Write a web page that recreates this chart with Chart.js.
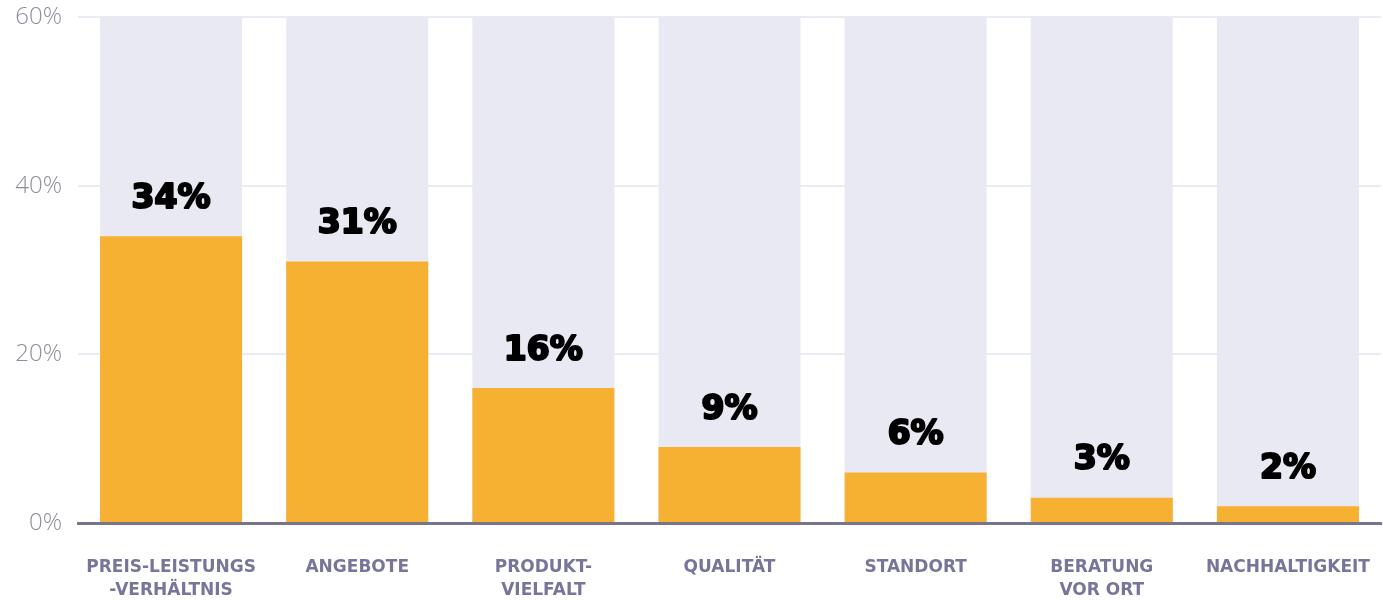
<!DOCTYPE html>
<html>
<head>
<meta charset="utf-8">
<script src="https://cdn.jsdelivr.net/npm/chart.js@4/dist/chart.umd.min.js"></script>
<style>
  html, body { margin: 0; padding: 0; background: #fff; }
  #wrap { width: 1383px; height: 600px; }
</style>
</head>
<body>
<div id="wrap"><canvas id="barChart"></canvas></div>
<script>
// Kategorien (mehrzeilige Achsenbeschriftungen)
const categories = [
  ["PREIS-LEISTUNGS", "-VERHÄLTNIS"],
  "ANGEBOTE",
  ["PRODUKT-", "VIELFALT"],
  "QUALITÄT",
  "STANDORT",
  ["BERATUNG", "VOR ORT"],
  "NACHHALTIGKEIT",
];
const shares = [34, 31, 16, 9, 6, 3, 2];
const maxValue = 60;
const yTicks = [0, 20, 40, 60];

const orange = "#f7b132";
const lavender = "#e9e9f3";

// Prozentwerte über den Balken (mit Kontur für extra fette Schrift)
const valueLabels = {
  id: "valueLabels",
  afterDatasetsDraw(chart) {
    const { ctx, scales } = chart;
    const meta = chart.getDatasetMeta(0);
    ctx.save();
    ctx.fillStyle = "#000";
    ctx.strokeStyle = "#000";
    ctx.lineWidth = 2.2;
    ctx.lineJoin = "round";
    ctx.font = "bold 33px 'DejaVu Sans', sans-serif";
    ctx.textAlign = "center";
    ctx.textBaseline = "middle";
    meta.data.forEach((bar, i) => {
      const y = scales.y.getPixelForValue(shares[i]) - 37;
      const txt = shares[i] + "%";
      ctx.strokeText(txt, bar.x, y);
      ctx.fillText(txt, bar.x, y);
    });
    ctx.restore();
  },
};

const ctx = document.getElementById("barChart").getContext("2d");
new Chart(ctx, {
  type: "bar",
  data: {
    labels: categories,
    datasets: [
      {
        label: "Anteil",
        data: shares,
        backgroundColor: orange,
        grouped: false,
        order: 1,
      },
      {
        label: "Hintergrund",
        data: categories.map(() => maxValue),
        backgroundColor: lavender,
        grouped: false,
        order: 2,
      },
    ],
  },
  options: {
    responsive: true,
    maintainAspectRatio: false,
    animation: false,
    categoryPercentage: 1,
    barPercentage: 0.763,
    layout: { padding: { top: 17, right: 2, left: 0, bottom: 0 } },
    plugins: { legend: { display: false }, tooltip: { enabled: false } },
    scales: {
      x: {
        grid: { display: false, drawTicks: false },
        border: { display: true, color: "#77758a", width: 3 },
        ticks: {
          color: "#77759a",
          padding: 34,
          maxRotation: 0,
          autoSkip: false,
          font: { family: "'DejaVu Sans', sans-serif", size: 17, weight: "bold", lineHeight: 1.3 },
        },
        afterFit(scale) {
          scale.height = 77;
          scale.paddingLeft = 0;
          scale.paddingRight = 0;
        },
      },
      y: {
        min: 0,
        max: maxValue,
        afterBuildTicks(scale) { scale.ticks = yTicks.map((v) => ({ value: v })); },
        grid: { color: "#ebebf4", lineWidth: 2, drawTicks: false },
        border: { display: false },
        ticks: {
          color: "#8e8e9a",
          padding: 16,
          callback: (v) => v + "%",
          font: { family: "'Open Sans', sans-serif", size: 24, weight: 300 },
        },
        afterFit(scale) {
          scale.width = 78;
          scale.paddingTop = 0;
          scale.paddingBottom = 0;
        },
      },
    },
  },
  plugins: [valueLabels],
});
</script>
</body>
</html>
